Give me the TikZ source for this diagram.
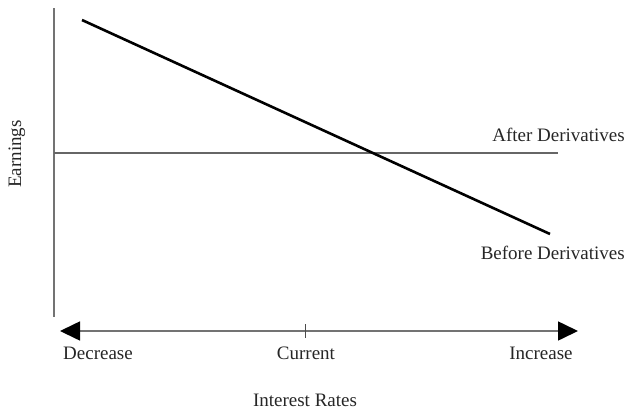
\documentclass[tikz,border=0pt]{standalone}
\usepackage{fontspec}
\setmainfont{Liberation Serif}
\usepackage{tikz}
\usetikzlibrary{arrows.meta,positioning,calc}

\begin{document}
\begin{tikzpicture}[x=1pt,y=-1pt,
        >={Triangle[length=20pt,width=19pt,color=black]},
        axisline/.style={draw=black!55,line width=1.6pt},
        label/.style={inner sep=0pt,font=\fontsize{19}{22}\selectfont,text=black!85}]
        \useasboundingbox (0,0) rectangle (627,413);

        % Axis end points
        \coordinate (ytop) at (54,8);
        \coordinate (ybot) at (54,317);
        \coordinate (xleft) at (60,331);
        \coordinate (xright) at (578,331);
        \coordinate (tickup) at (305,324);
        \coordinate (tickdown) at (305,338);

        % Curve end points
        \coordinate (after1) at (54,153);
        \coordinate (after2) at (558,153);
        \coordinate (before1) at (82,20);
        \coordinate (before2) at (550,234);

        % Axes
        \draw[axisline] (ytop) -- (ybot);
        \draw[axisline,<->] (xleft) -- (xright);
        \draw[black!70,line width=1pt] (tickup) -- (tickdown);

        % Earnings lines
        \draw[black!60,line width=1.6pt] (after1) -- (after2);
        \draw[black,line width=2.6pt] (before1) -- (before2);

        % Labels
        \node[label,anchor=east] (afterlbl) at (625,135) {After Derivatives};
        \node[label,anchor=east] (beforelbl) at (625,253) {Before Derivatives};
        \node[label] (decrease) at (98,353) {Decrease};
        \node[label] (current) at (306,353) {Current};
        \node[label] (increase) at (541,353) {Increase};
        \node[label] (rates) at (305,400) {Interest Rates};
        \node[label,rotate=90] (earnings) at (17,154) {Earnings};
    \end{tikzpicture}
\end{document}
